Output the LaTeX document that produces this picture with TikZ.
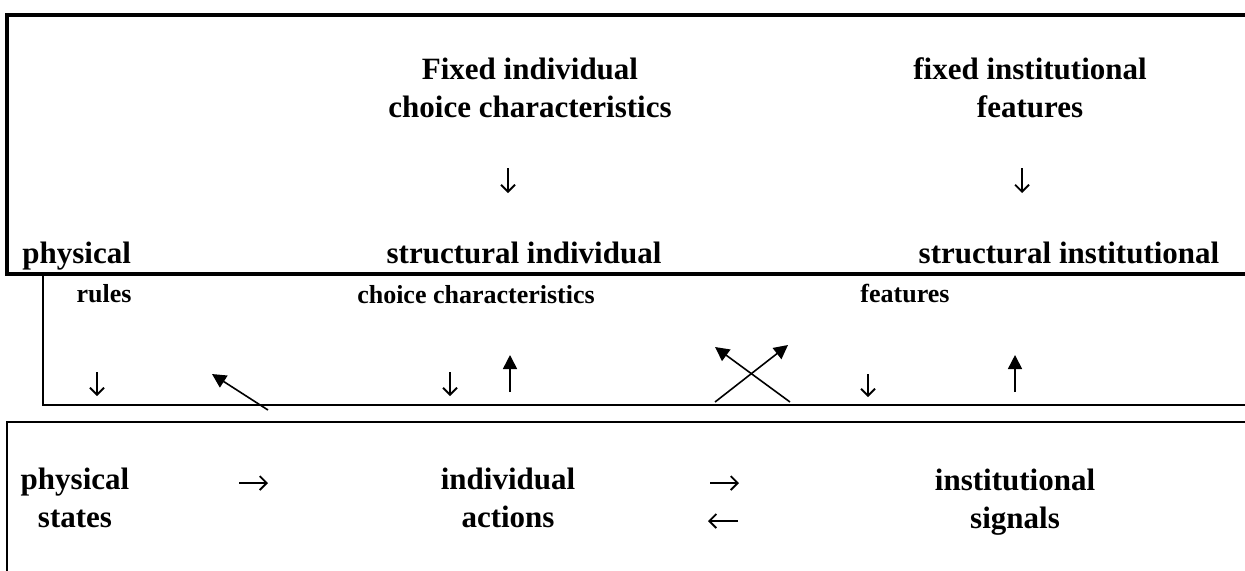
\documentclass[tikz,border=0pt]{standalone}
\usepackage{fontspec}
\setmainfont{Liberation Serif}
\usetikzlibrary{arrows.meta}

\begin{document}
\begin{tikzpicture}[
    x=0.5pt, y=-0.5pt,
    bigtext/.style={font=\fontsize{15.5}{19}\selectfont\bfseries, inner sep=0pt, align=center},
    smalltext/.style={font=\fontsize{13}{16}\selectfont\bfseries, inner sep=0pt},
    boxline/.style={line width=1.2pt},
    glyph/.style={-{Straight Barb[length=3.5pt,width=7pt]}, line width=0.9pt},
    push/.style={-{Triangle[length=7pt,width=7pt]}, line width=0.8pt}
]
\useasboundingbox[fill=white] (0,0) rectangle (1245,570);

% Frames
\draw[line width=1.6pt] (1260,15) -- (7,15) -- (7,274) -- (1260,274);
\draw[boxline] (43,274) -- (43,405) -- (1260,405);
\draw[boxline] (1260,422) -- (7,422) -- (7,590);

% Fixed characteristics
\node[bigtext] (fixind) at (530,88) {Fixed individual\\choice characteristics};
\node[bigtext] (fixinst) at (1030,88) {fixed institutional\\features};

% Structural characteristics
\node[bigtext, anchor=base west] (phys) at (22,263) {physical};
\node[bigtext, anchor=base] (strind) at (524,263) {structural individual};
\node[bigtext, anchor=base] (strinst) at (1069,263) {structural institutional};
\node[smalltext, anchor=base] (rules) at (104,302) {rules};
\node[smalltext, anchor=base] (chchar) at (476,303) {choice characteristics};
\node[smalltext, anchor=base] (feat) at (905,302) {features};

% States, actions and signals
\node[bigtext] (states) at (75,498) {physical\\states};
\node[bigtext] (actions) at (508,498) {individual\\actions};
\node[bigtext] (signals) at (1015,502) {institutional\\signals};

% Arrow ends
\coordinate (fi1) at (508,168);  \coordinate (fi2) at (508,193);
\coordinate (fs1) at (1022,168); \coordinate (fs2) at (1022,193);
\coordinate (ru1) at (97,372);   \coordinate (ru2) at (97,396);
\coordinate (ci1) at (450,372);  \coordinate (ci2) at (450,396);
\coordinate (fe1) at (868,374);  \coordinate (fe2) at (868,397);
\coordinate (ia1) at (510,392);  \coordinate (ia2) at (510,355);
\coordinate (is1) at (1015,392); \coordinate (is2) at (1015,355);
\coordinate (ps1) at (268,410);  \coordinate (ps2) at (212,374);
\coordinate (xa1) at (715,402);  \coordinate (xa2) at (788,345);
\coordinate (xb1) at (790,402);  \coordinate (xb2) at (715,347);
\coordinate (pa1) at (239,483);  \coordinate (pa2) at (268,483);
\coordinate (as1) at (710,483);  \coordinate (as2) at (739,483);
\coordinate (sa1) at (738,521);  \coordinate (sa2) at (708,521);

% Arrows
\draw[glyph] (fi1) -- (fi2);
\draw[glyph] (fs1) -- (fs2);
\draw[glyph] (ru1) -- (ru2);
\draw[glyph] (ci1) -- (ci2);
\draw[glyph] (fe1) -- (fe2);
\draw[push] (ia1) -- (ia2);
\draw[push] (is1) -- (is2);
\draw[push] (ps1) -- (ps2);
\draw[push] (xa1) -- (xa2);
\draw[push] (xb1) -- (xb2);
\draw[glyph] (pa1) -- (pa2);
\draw[glyph] (as1) -- (as2);
\draw[glyph] (sa1) -- (sa2);

\end{tikzpicture}
\end{document}
